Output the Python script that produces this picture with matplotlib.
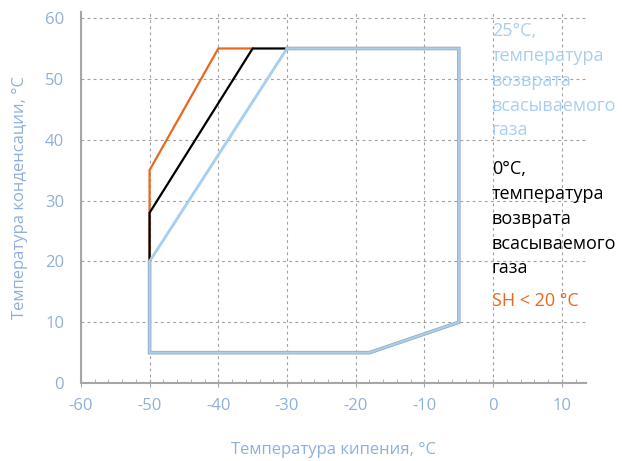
import matplotlib
matplotlib.use("Agg")
import matplotlib.pyplot as plt
import matplotlib.patheffects as pe
from matplotlib.ticker import MultipleLocator

plt.rcParams['font.family'] = ['Open Sans', 'DejaVu Sans']
plt.rcParams['axes.unicode_minus'] = False

# данные (температура кипения, температура конденсации)
env_x = [-30, -5, -5, -18, -50, -50]
env_y = [55, 55, 10, 5, 5, 20]
blue_x = [-50, -30]
blue_y = [20, 55]
black_x = [-50, -50, -35, -30]
black_y = [20, 28, 55, 55]
orange_x = [-50, -50, -40, -35]
orange_y = [20, 35, 55, 55]

x_ticks = [-60, -50, -40, -30, -20, -10, 0, 10]
y_ticks = [0, 10, 20, 30, 40, 50, 60]

label_blue = "25°C,\nтемпература\nвозврата\nвсасываемого\nгаза"
label_black = "0°C,\nтемпература\nвозврата\nвсасываемого\nгаза"
label_orange = "SH < 20 °C"

c_orange = '#E8691E'
c_blue = '#A9CFEF'
c_text = '#8FB0DB'
c_axis = '#A6A6A6'

fig = plt.figure(figsize=(6.22, 4.61), dpi=100)
ax = fig.add_axes([0.130, 0.169, 0.812, 0.805])

ax.plot(orange_x, orange_y, color=c_orange, lw=1.6, solid_joinstyle='miter', zorder=3)
ax.plot(black_x, black_y, color='black', lw=1.6, solid_joinstyle='miter', zorder=4)
ax.plot(blue_x, blue_y, color=c_blue, lw=2.1, zorder=5)
ax.plot(env_x, env_y, color=c_blue, lw=1.5, solid_joinstyle='miter', zorder=5,
        path_effects=[pe.Stroke(linewidth=2.6, foreground='#98A8BA'), pe.Normal()])

ax.set_xlim(-60, 13.5)
ax.set_ylim(0, 61)
ax.set_xticks(x_ticks)
ax.set_yticks(y_ticks)
ax.xaxis.set_minor_locator(MultipleLocator(2))

ax.grid(True, which='major', color='#A0A0A0', lw=0.8, ls=(0, (2.5, 3)))
for s in ['top', 'right']:
    ax.spines[s].set_visible(False)
for s in ['left', 'bottom']:
    ax.spines[s].set_color(c_axis)
    ax.spines[s].set_linewidth(1.5)

ax.tick_params(axis='x', which='major', direction='inout', length=6, color=c_axis,
               labelsize=12, labelcolor=c_text, pad=8)
ax.tick_params(axis='x', which='minor', direction='in', length=3, color=c_axis)
ax.tick_params(axis='y', which='major', length=0, labelsize=12, labelcolor=c_text, pad=12)

ax.set_xlabel("Температура кипения, °C", color=c_text, fontsize=12, labelpad=20)
ax.set_ylabel("Температура конденсации, °C", color=c_text, fontsize=12, labelpad=12)

ax.text(0.814, 0.972, label_blue, transform=ax.transAxes, color=c_blue, fontsize=13,
        va='top', ha='left', linespacing=1.48, clip_on=False)
ax.text(0.814, 0.600, label_black, transform=ax.transAxes, color='black', fontsize=13,
        va='top', ha='left', linespacing=1.48, clip_on=False)
ax.text(0.814, 0.245, label_orange, transform=ax.transAxes, color=c_orange, fontsize=13,
        va='top', ha='left', clip_on=False)

fig.savefig("out.png", dpi=100)
